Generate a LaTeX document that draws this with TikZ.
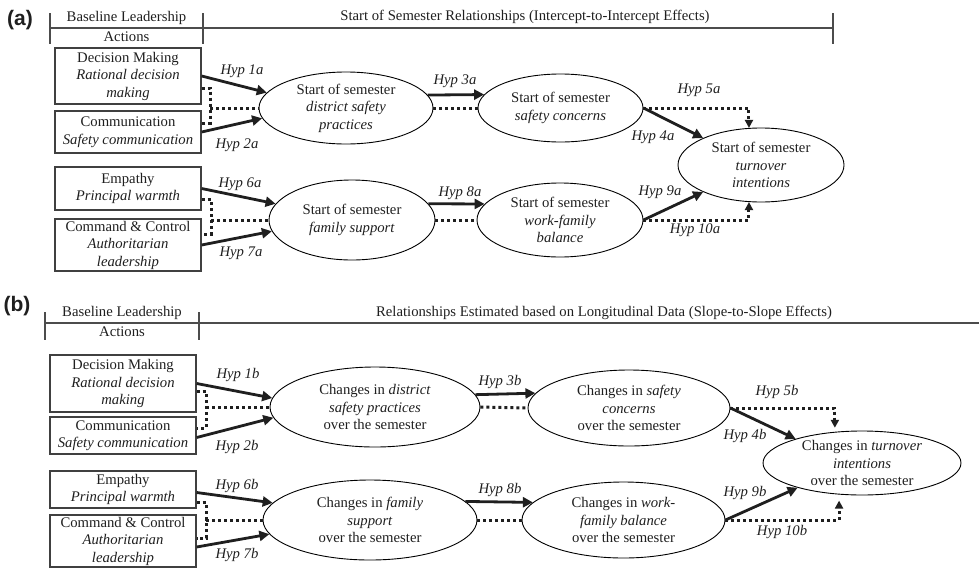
\documentclass[tikz,border=0pt]{standalone}
\usepackage{fontspec}
\setmainfont{Liberation Serif}
\newfontfamily\labfont{Liberation Sans}
\usetikzlibrary{shapes.geometric,arrows.meta,calc}
\colorlet{ink}{black!88}
\colorlet{boxc}{black!75}
\colorlet{hdrc}{black!70}
\tikzset{
 every node/.style={font=\fontsize{14.7}{17.5}\selectfont, text=ink, align=center},
 box/.style={draw=boxc, line width=1.3pt, rectangle, minimum width=146pt, inner sep=0pt},
 ell/.style={draw=black, line width=0.9pt, ellipse, inner sep=0pt},
 solidarr/.style={draw=ink, line width=2.8pt, -{Triangle[length=10pt,width=10pt]}},
 dotl/.style={draw=ink, line width=3pt, dash pattern=on 3pt off 3pt},
 dotarr/.style={dotl, -{Triangle[length=8pt,width=8pt]}},
 hyp/.style={font=\fontsize{14.7}{17.5}\selectfont\itshape},
 hdr/.style={draw=hdrc, line width=1.4pt},
 plab/.style={font=\labfont\bfseries\fontsize{21}{22}\selectfont, text=ink},
}
\begin{document}
\begin{tikzpicture}[x=1pt,y=-1pt]
\useasboundingbox (0,0) rectangle (979,576);

% ---------------- Panel (a) ----------------
\node[plab] (pa) at (20,20) {(a)};
\draw[hdr] (50,13) -- (50,44) (203,13) -- (203,44) (833,13) -- (833,44) (50,28) -- (833,28);
\node (hbla) at (126.5,18) {Baseline Leadership};
\node (haca) at (126.5,37) {Actions};
\node (hsta) at (525,17) {Start of Semester Relationships (Intercept-to-Intercept Effects)};

\node[box, minimum height=56pt] (dm) at (128,76) {Decision Making\\\textit{Rational decision}\\\textit{making}};
\node[box, minimum height=42pt] (cm) at (128,132) {Communication\\\textit{Safety communication}};
\node[box, minimum height=43pt] (em) at (128,188.5) {Empathy\\\textit{Principal warmth}};
\node[box, minimum height=52pt] (cc) at (128,245) {Command \& Control\\\textit{Authoritarian}\\\textit{leadership}};

\node[ell, minimum width=174pt, minimum height=72pt] (e1) at (346,108) {};
\node (t1) at (e1) {Start of semester\\\textit{district safety}\\\textit{practices}};
\node[ell, minimum width=165pt, minimum height=68pt] (e2) at (560.5,108) {};
\node (t2) at (e2) {Start of semester\\\textit{safety concerns}};
\node[ell, minimum width=166pt, minimum height=74pt] (e3) at (761,165) {};
\node (t3) at (e3) {Start of semester\\\textit{turnover}\\\textit{intentions}};
\node[ell, minimum width=166pt, minimum height=80pt] (e4) at (352,220) {};
\node (t4) at (e4) {Start of semester\\\textit{family support}};
\node[ell, minimum width=166pt, minimum height=74pt] (e5) at (560,220) {};
\node (t5) at (e5) {Start of semester\\\textit{work-family}\\\textit{balance}};

\draw[solidarr] (dm.east) -- (e1.169);
\draw[solidarr] (cm.east) -- (e1.187);
\coordinate (ba) at (210,0);
\draw[dotl] ($(dm.east)+(0,12)$) -| (ba |- e1.west) |- ($(cm.east)+(0,-9)$);
\draw[dotl] (ba |- e1.west) -- (e1.west);
\node[hyp] (h1a) at (242,71) {Hyp 1a};
\node[hyp] (h2a) at (237,145) {Hyp 2a};

\draw[solidarr] (e1.9) -- (e2.170);
\draw[dotl] (e1.east) -- (e2.west);
\node[hyp] (h3a) at (455,81) {Hyp 3a};

\draw[solidarr] (e2.east) -- (e3.155);
\draw[dotarr] (e2.east) -| (e3.108);
\node[hyp] (h4a) at (653,137) {Hyp 4a};
\node[hyp] (h5a) at (699,90) {Hyp 5a};

\draw[solidarr] (em.east) -- (e4.168);
\draw[solidarr] (cc.east) -- (e4.188);
\coordinate (bb) at (211,0);
\draw[dotl] ($(em.east)+(0,11)$) -| (bb |- e4.west) |- ($(cc.east)+(0,-11)$);
\draw[dotl] (bb |- e4.west) -- (e4.west);
\node[hyp] (h6a) at (240,184) {Hyp 6a};
\node[hyp] (h7a) at (241,253) {Hyp 7a};

\draw[solidarr] (e4.12) -- (e5.168);
\draw[dotl] (e4.east) -- (e5.west);
\node[hyp] (h8a) at (460,193) {Hyp 8a};

\draw[solidarr] (e5.east) -- (e3.205);
\draw[dotarr] (e5.east) -| (e3.252);
\node[hyp] (h9a) at (660,192) {Hyp 9a};
\node[hyp] (h10a) at (695,230) {Hyp 10a};

% ---------------- Panel (b) ----------------
\node[plab] (pb) at (17,306) {(b)};
\draw[hdr] (45,312) -- (45,340) (199,312) -- (199,340) (45,323) -- (979,323);
\node (hblb) at (122,313) {Baseline Leadership};
\node (hacb) at (122,332) {Actions};
\node (hstb) at (604,313) {Relationships Estimated based on Longitudinal Data (Slope-to-Slope Effects)};

\node[box, minimum height=57pt] (dmb) at (123,383.5) {Decision Making\\\textit{Rational decision}\\\textit{making}};
\node[box, minimum height=37pt] (cmb) at (123,435.5) {Communication\\\textit{Safety communication}};
\node[box, minimum height=37pt] (emb) at (123,489.5) {Empathy\\\textit{Principal warmth}};
\node[box, minimum height=52pt] (ccb) at (123,541) {Command \& Control\\\textit{Authoritarian}\\\textit{leadership}};

\node[ell, minimum width=210pt, minimum height=80pt] (e1b) at (375,407) {};
\node (t1b) at (e1b) {Changes in \textit{district}\\\textit{safety practices}\\over the semester};
\node[ell, minimum width=202pt, minimum height=76pt] (e2b) at (629,408) {};
\node (t2b) at (e2b) {Changes in \textit{safety}\\\textit{concerns}\\over the semester};
\node[ell, minimum width=198pt, minimum height=64pt] (e3b) at (862,463) {};
\node (t3b) at (e3b) {Changes in \textit{turnover}\\\textit{intentions}\\over the semester};
\node[ell, minimum width=214pt, minimum height=80pt] (e4b) at (370,520) {};
\node (t4b) at (e4b) {Changes in \textit{family}\\\textit{support}\\over the semester};
\node[ell, minimum width=203pt, minimum height=76pt] (e5b) at (623.5,520) {};
\node (t5b) at (e5b) {Changes in \textit{work-}\\\textit{family balance}\\over the semester};

\draw[solidarr] (dmb.east) -- (e1b.175);
\draw[solidarr] ($(cmb.east)+(0,2)$) -- (e1b.186);
\coordinate (bc) at (206,0);
\draw[dotl] ($(dmb.east)+(0,8)$) -| (bc |- e1b.west) |- ($(cmb.east)+(0,-7.5)$);
\draw[dotl] (bc |- e1b.west) -- (e1b.west);
\node[hyp] (h1b) at (238,375) {Hyp 1b};
\node[hyp] (h2b) at (237,447) {Hyp 2b};

\draw[solidarr] (e1b.7) -- (e2b.171);
\draw[dotl] (e1b.east) -- (e2b.west);
\node[hyp] (h3b) at (500,382) {Hyp 3b};

\draw[solidarr] (e2b.east) -- (e3b.160);
\draw[dotarr, shorten >=4pt] (e2b.east) -| (e3b.131);
\node[hyp] (h4b) at (745,436) {Hyp 4b};
\node[hyp] (h5b) at (777,392) {Hyp 5b};

\draw[solidarr] ($(emb.east)+(0,3)$) -- (e4b.170);
\draw[solidarr] ($(ccb.east)+(0,6)$) -- (e4b.188);
\coordinate (bd) at (206,0);
\draw[dotl] ($(emb.east)+(0,13)$) -| (bd |- e4b.west) |- ($(ccb.east)+(0,-3)$);
\draw[dotl] (bd |- e4b.west) -- (e4b.west);
\node[hyp] (h6b) at (237,486) {Hyp 6b};
\node[hyp] (h7b) at (237,555) {Hyp 7b};

\draw[solidarr] (e4b.11) -- (e5b.169);
\draw[dotl] (e4b.east) -- (e5b.west);
\node[hyp] (h8b) at (500,490) {Hyp 8b};

\draw[solidarr] (e5b.east) -- (e3b.201);
\draw[dotarr, shorten >=6pt] (e5b.east) -| (e3b.234);
\node[hyp] (h9b) at (745,493) {Hyp 9b};
\node[hyp] (h10b) at (782,532) {Hyp 10b};
\end{tikzpicture}
\end{document}
